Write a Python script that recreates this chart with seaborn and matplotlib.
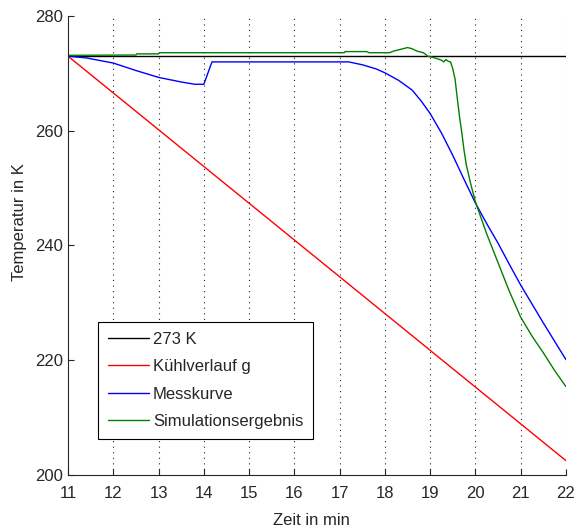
import pandas as pd
import matplotlib
matplotlib.use('Agg')
import matplotlib.pyplot as plt
import seaborn as sns

# ------------------------------------------------------- #
#                          DATEN                          #
# ------------------------------------------------------- #
x_ref = [11, 22]
y_ref = [273, 273]

x_kuehl = [11, 22]
y_kuehl = [273, 202.5]

x_mess = [11, 11.4, 12.0, 12.5, 13.0, 13.5, 13.8, 14.0, 14.18, 15, 16, 17.0, 17.2,
          17.5, 17.8, 18.0, 18.3, 18.6, 18.8, 19.0, 19.25, 19.5, 19.75, 20.0,
          20.25, 20.5, 20.75, 21.0, 21.25, 21.5, 21.75, 22.0]
y_mess = [273, 272.7, 271.8, 270.5, 269.3, 268.5, 268.1, 268.1, 272.0, 272, 272, 272, 272.0,
          271.5, 270.8, 270.1, 268.8, 267.1, 265.2, 263.0, 259.6, 255.7, 251.5, 247.4,
          243.8, 240.4, 236.7, 233.1, 229.8, 226.5, 223.3, 220.1]

x_sim = [11, 12.5, 12.52, 13.0, 13.02, 17.1, 17.12, 17.6, 17.65, 18.1, 18.2, 18.35,
         18.5, 18.6, 18.7, 18.85, 18.95, 19.1, 19.25, 19.3, 19.35, 19.4, 19.45, 19.5,
         19.55, 19.6, 19.65, 19.7, 19.75, 19.8, 19.9, 20.0, 20.25, 20.5, 20.75, 21.0,
         21.25, 21.5, 21.75, 22.0]
y_sim = [273.15, 273.2, 273.4, 273.4, 273.6, 273.6, 273.8, 273.8, 273.6, 273.6, 273.9, 274.2,
         274.5, 274.3, 273.9, 273.6, 273.0, 272.7, 272.3, 272.0, 272.4, 272.1, 272.0, 270.8,
         269.0, 265.6, 262.4, 259.6, 256.5, 254.0, 250.6, 247.6, 242.0, 237.0, 232.0, 227.5,
         224.2, 221.3, 218.2, 215.4]

# ------------------------------------------------------- #
#                          GRAFIK                         #
# ------------------------------------------------------- #
sns.set_style('ticks')
plt.rcParams['font.family'] = ['Liberation Sans', 'DejaVu Sans']

fig = plt.figure(figsize=(5.74, 5.30), dpi=100)
ax = fig.add_axes([0.1185, 0.1038, 0.8675, 0.866])

for xv in range(12, 23):
    ax.axvline(xv, color='#222222', linestyle=(0, (1, 4)), linewidth=0.8, zorder=0)

sns.lineplot(x=x_ref, y=y_ref, color='k', linewidth=1, label='273 K', ax=ax)
sns.lineplot(x=x_kuehl, y=y_kuehl, color='#ff0000', linewidth=1, label='Kühlverlauf g', ax=ax)
sns.lineplot(x=x_mess, y=y_mess, color='#0000ff', linewidth=1, label='Messkurve', ax=ax)
sns.lineplot(x=x_sim, y=y_sim, color='#008000', linewidth=1, label='Simulationsergebnis', ax=ax)

ax.set_xlim(11, 22)
ax.set_ylim(200, 280)
ax.set_xticks(range(11, 23))
ax.set_yticks(range(200, 281, 20))
ax.tick_params(direction='in', length=4, labelsize=12, colors='#262626')
ax.tick_params(axis='x', pad=8)
ax.spines['top'].set_visible(False)
ax.spines['right'].set_visible(False)

ax.set_xlabel('Zeit in min', fontsize=12, color='#262626')
ax.set_ylabel('Temperatur in K', fontsize=12, color='#262626')
ax.xaxis.set_label_coords(0.488, -0.082)
ax.yaxis.set_label_coords(-0.082, 0.551)

leg = ax.legend(loc='lower left', bbox_to_anchor=(0.060, 0.078), borderaxespad=0,
                fontsize=12, fancybox=False, framealpha=1, edgecolor='k',
                handlelength=2.45, labelspacing=0.75, handletextpad=0.25,
                borderpad=0.6)
leg.get_frame().set_linewidth(0.8)

plt.savefig('out.png', dpi=100)
